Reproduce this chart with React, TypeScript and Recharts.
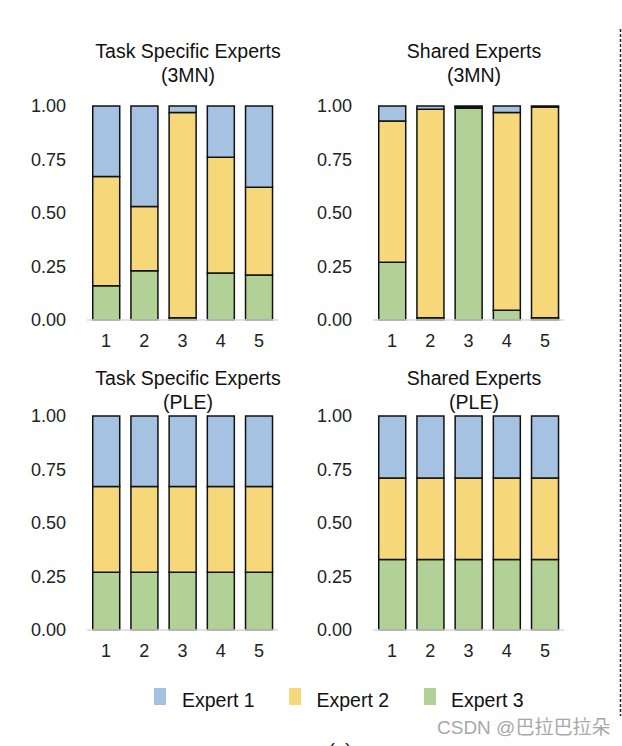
import React from 'react';
import { BarChart, Bar, XAxis, YAxis } from 'recharts';

const categories = ['1', '2', '3', '4', '5'];
const seriesNames = ['Expert 1', 'Expert 2', 'Expert 3'];
const seriesColors = ['#A6C2E2', '#F6D87A', '#B2D197'];
const yTicks = [0, 0.25, 0.5, 0.75, 1];

// Task Specific Experts (3MN)
const ts3mnE1 = [0.33, 0.47, 0.03, 0.24, 0.38];
const ts3mnE2 = [0.51, 0.30, 0.96, 0.54, 0.41];
const ts3mnE3 = [0.16, 0.23, 0.01, 0.22, 0.21];
// Shared Experts (3MN)
const sh3mnE1 = [0.07, 0.015, 0.005, 0.03, 0.005];
const sh3mnE2 = [0.66, 0.975, 0.005, 0.925, 0.985];
const sh3mnE3 = [0.27, 0.01, 0.99, 0.045, 0.01];
// Task Specific Experts (PLE)
const tsPleE1 = [0.33, 0.33, 0.33, 0.33, 0.33];
const tsPleE2 = [0.40, 0.40, 0.40, 0.40, 0.40];
const tsPleE3 = [0.27, 0.27, 0.27, 0.27, 0.27];
// Shared Experts (PLE)
const shPleE1 = [0.29, 0.29, 0.29, 0.29, 0.29];
const shPleE2 = [0.38, 0.38, 0.38, 0.38, 0.38];
const shPleE3 = [0.33, 0.33, 0.33, 0.33, 0.33];

const titles = [
  ['Task Specific Experts', '(3MN)'],
  ['Shared Experts', '(3MN)'],
  ['Task Specific Experts', '(PLE)'],
  ['Shared Experts', '(PLE)'],
];

const build = (e1: number[], e2: number[], e3: number[]) =>
  categories.map((c, i) => ({ name: c, e1: e1[i], e2: e2[i], e3: e3[i] }));

const panels = [
  { data: build(ts3mnE1, ts3mnE2, ts3mnE3), title: titles[0], left: 0, top: 90, tY: 58 },
  { data: build(sh3mnE1, sh3mnE2, sh3mnE3), title: titles[1], left: 286, top: 90, tY: 58 },
  { data: build(tsPleE1, tsPleE2, tsPleE3), title: titles[2], left: 0, top: 400, tY: 385 },
  { data: build(shPleE1, shPleE2, shPleE3), title: titles[3], left: 286, top: 400, tY: 385 },
];

const FONT = '"Liberation Sans", Arial, Helvetica, sans-serif';
const tickStyle = { fill: '#222', fontSize: 18, fontFamily: FONT };

function Panel({ data, left, top }: { data: any[]; left: number; top: number }) {
  return (
    <div style={{ position: 'absolute', left, top, width: 300, height: 270 }}>
      <BarChart
        width={300}
        height={270}
        data={data}
        margin={{ top: 16, right: 22, bottom: 0, left: 0 }}
        barCategoryGap="15%"
      >
        <XAxis
          dataKey="name"
          height={40}
          axisLine={{ stroke: '#D9D9D9', strokeWidth: 1.5 }}
          tickLine={false}
          tickSize={0}
          tickMargin={14}
          tick={tickStyle}
          interval={0}
        />
        <YAxis
          width={87}
          domain={[0, 1]}
          ticks={yTicks}
          axisLine={false}
          tickLine={false}
          tickSize={0}
          tickMargin={21}
          tick={tickStyle}
          interval={0}
          tickFormatter={(v: number) => v.toFixed(2)}
        />
        <Bar dataKey="e3" stackId="s" fill={seriesColors[2]} stroke="#111" strokeWidth={1.5} isAnimationActive={false} />
        <Bar dataKey="e2" stackId="s" fill={seriesColors[1]} stroke="#111" strokeWidth={1.5} isAnimationActive={false} />
        <Bar dataKey="e1" stackId="s" fill={seriesColors[0]} stroke="#111" strokeWidth={1.5} isAnimationActive={false} />
      </BarChart>
    </div>
  );
}

export default function App() {
  return (
    <div style={{ position: 'absolute', left: 0, top: 0, width: 622, height: 746, background: '#fff', overflow: 'hidden' }}>
      {panels.map((p, i) => (
        <Panel key={i} data={p.data} left={p.left} top={p.top} />
      ))}
      <svg width={622} height={746} style={{ position: 'absolute', left: 0, top: 0, pointerEvents: 'none' }}>
        {panels.map((p, i) => (
          <g key={i} fontFamily={FONT} fontSize={19.5} fill="#111" textAnchor="middle">
            <text x={p.left + 188} y={p.tY}>{p.title[0]}</text>
            <text x={p.left + 188} y={p.tY + 24}>{p.title[1]}</text>
          </g>
        ))}
        {seriesNames.map((n, i) => (
          <g key={n}>
            <rect x={154 + i * 135} y={688} width={12} height={17} fill={seriesColors[i]} />
            <text x={182 + i * 134.5} y={707} fontFamily={FONT} fontSize={19.5} fill="#111">{n}</text>
          </g>
        ))}
        <line x1={620.5} y1={29} x2={620.5} y2={716} stroke="#222" strokeWidth={1.5} strokeDasharray="3 2" />
        <text x={437} y={734} fontFamily={'"Liberation Sans", "Noto Sans CJK SC", sans-serif'} fontSize={19} fill="#A8A8A8">CSDN @巴拉巴拉朵</text>
        <text x={340} y={756} textAnchor="middle" fontFamily={FONT} fontSize={19} fill="#111">(a)</text>
      </svg>
    </div>
  );
}
